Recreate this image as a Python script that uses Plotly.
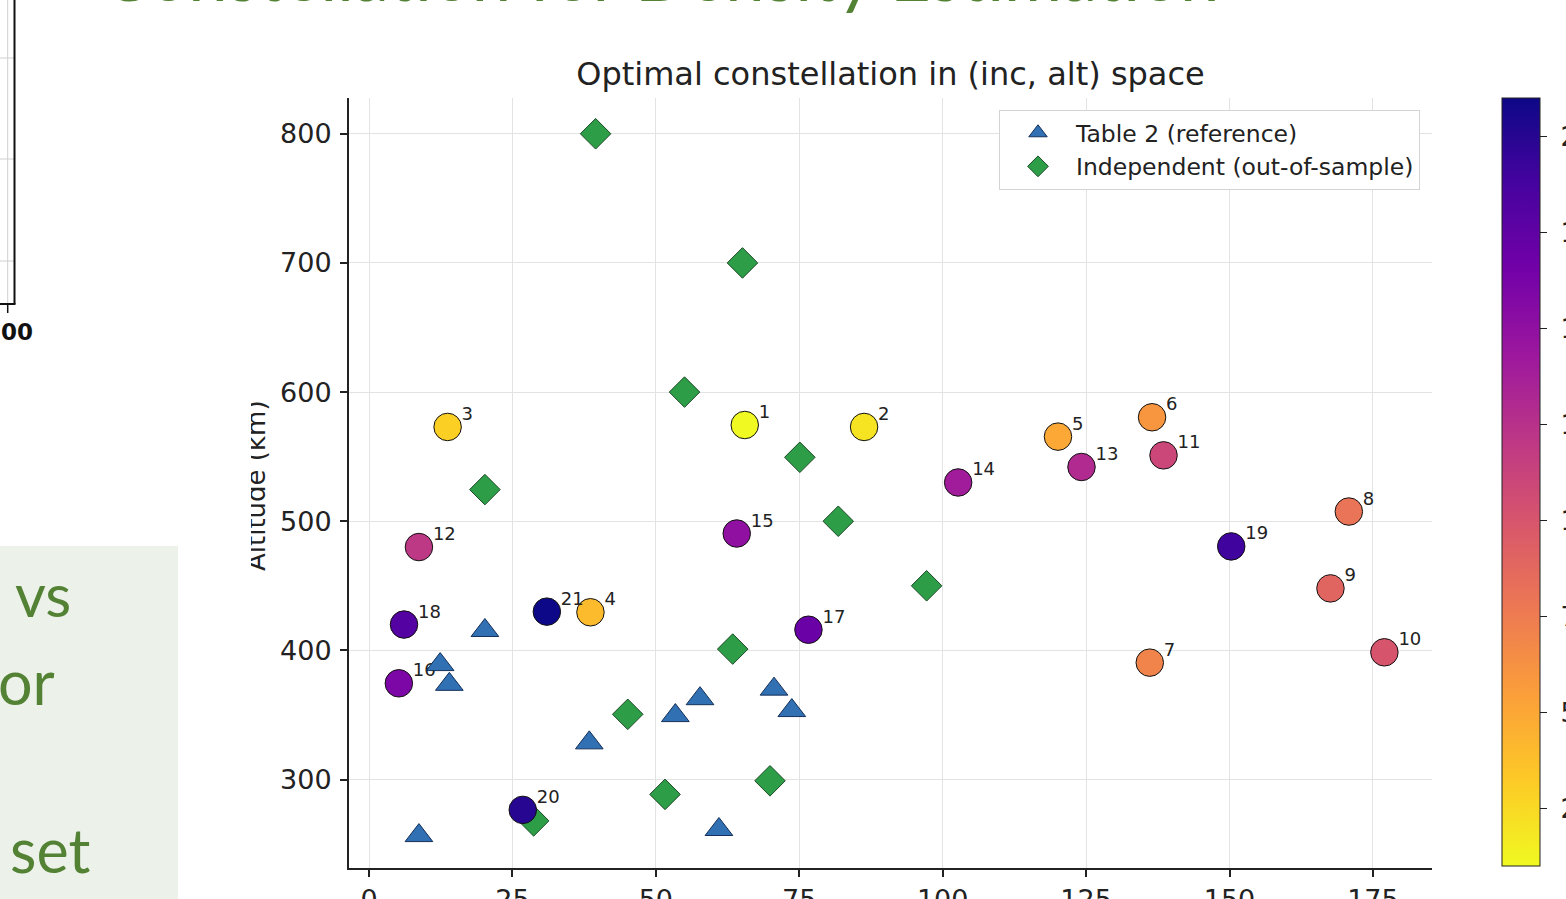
import plotly.graph_objects as go

# ---------------- data ----------------
sat_id = list(range(1, 22))
sat_inc = [65.5, 86.3, 13.7, 38.6, 120.1, 136.5, 136.1, 170.8, 167.6, 177.0, 138.5,
           8.7, 124.2, 102.7, 64.1, 5.2, 76.6, 6.1, 150.3, 26.8, 31.0]
sat_alt = [574.5, 573, 573, 429.5, 565.5, 580.5, 390.5, 507.5, 448, 398.5, 551,
           480, 542, 530, 490.5, 374.5, 416, 420, 480.5, 276.5, 430]

ref_inc = [8.7, 12.4, 14.0, 20.2, 38.4, 53.4, 57.7, 61.0, 70.6, 73.7]
ref_alt = [256.6, 389, 373.7, 415.4, 328.4, 349.5, 362.6, 261.3, 370, 353.4]

ind_inc = [39.5, 65.1, 55.0, 20.2, 75.1, 81.8, 97.2, 63.4, 45.1, 51.6, 69.9, 28.7]
ind_alt = [800, 700, 600, 524.5, 549.5, 500, 450, 401, 350.5, 288.5, 299, 268]

x_ticks = [0, 25, 50, 75, 100, 125, 150, 175]
y_ticks = [300, 400, 500, 600, 700, 800]
cbar_ticks = [2.5, 5, 7.5, 10, 12.5, 15, 17.5, 20]

# ---------------- layout constants ----------------
W, H = 1566, 899
ML, MR, MT, MB = 349, 134, 98, 31
XR = [-3.49, 185.3]
YR = [231.5, 827.7]
PW, PH = W - ML - MR, H - MT - MB
ppx = PW / (XR[1] - XR[0])
ppy = PH / (YR[1] - YR[0])


def px(xp):
    return (xp - ML) / PW


def py(yp):
    return (H - MB - yp) / PH


FONT = "DejaVu Sans"
INK = "#222222"
SLIDE_GREEN = "#548235"

fig = go.Figure()

# Independent (diamonds)
fig.add_trace(go.Scatter(
    x=ind_inc, y=ind_alt, mode="markers", name="Independent (out-of-sample)",
    legendrank=2,
    marker=dict(symbol="diamond", size=23.5, color="#2e9d48",
                line=dict(color="#1c4a26", width=1)),
))

# Optimal constellation (circles, coloured by index)
fig.add_trace(go.Scatter(
    x=sat_inc, y=sat_alt, mode="markers", showlegend=False,
    marker=dict(size=27.5, color=sat_id, colorscale="Plasma", reversescale=True,
                cmin=1, cmax=21, line=dict(color="#111111", width=1),
                colorbar=dict(
                    x=px(1502), xanchor="left", xpad=0,
                    y=py(482), yanchor="middle", ypad=0,
                    thickness=38, thicknessmode="pixels",
                    len=768, lenmode="pixels",
                    outlinewidth=1, outlinecolor=INK,
                    tickvals=cbar_ticks,
                    ticktext=["\u00a0" + f"{v:.1f}" for v in cbar_ticks],
                    ticks="outside", ticklen=7, tickwidth=1.2, tickcolor=INK,
                    tickfont=dict(family=FONT, size=26, color=INK),
                )),
))

# index labels next to circles
fig.add_trace(go.Scatter(
    x=[v + 14 / ppx for v in sat_inc], y=[v + 2.5 / ppy for v in sat_alt],
    mode="text", text=[str(i) for i in sat_id], textposition="top right",
    textfont=dict(family=FONT, size=18, color=INK), showlegend=False,
    hoverinfo="skip",
))

# Table 2 reference (triangles)
fig.add_trace(go.Scatter(
    x=ref_inc, y=ref_alt, mode="markers", name="Table 2 (reference)",
    legendrank=1,
    marker=dict(symbol="triangle-up", size=24, color="#3070b3",
                line=dict(color="#15305a", width=1)),
))

axis_common = dict(
    showgrid=True, gridcolor="#e3e3e3", gridwidth=1, zeroline=False,
    showline=True, linecolor=INK, linewidth=2, mirror=False,
    ticks="outside", ticklen=7, tickwidth=1.5, tickcolor=INK,
    tickfont=dict(family=FONT, size=27, color=INK),
)

shapes = [
    # light green text box on the slide
    dict(type="rect", xref="paper", yref="paper", x0=px(-5), x1=px(178),
         y0=py(905), y1=py(546), fillcolor="#ecf1ea", line=dict(width=0),
         layer="below"),
    # fragment of neighbouring chart (top-left)
    dict(type="line", xref="paper", yref="paper", x0=px(7.7), x1=px(7.7),
         y0=py(-5), y1=py(304), line=dict(color="#cfcfcf", width=1)),
    dict(type="line", xref="paper", yref="paper", x0=px(0), x1=px(14.5),
         y0=py(58), y1=py(58), line=dict(color="#cfcfcf", width=1)),
    dict(type="line", xref="paper", yref="paper", x0=px(0), x1=px(14.5),
         y0=py(159), y1=py(159), line=dict(color="#cfcfcf", width=1)),
    dict(type="line", xref="paper", yref="paper", x0=px(0), x1=px(14.5),
         y0=py(261), y1=py(261), line=dict(color="#cfcfcf", width=1)),
    dict(type="line", xref="paper", yref="paper", x0=px(14.5), x1=px(14.5),
         y0=py(-5), y1=py(304), line=dict(color="#111111", width=2)),
    dict(type="line", xref="paper", yref="paper", x0=px(-5), x1=px(15.5),
         y0=py(304), y1=py(304), line=dict(color="#111111", width=2)),
    dict(type="line", xref="paper", yref="paper", x0=px(7.7), x1=px(7.7),
         y0=py(304), y1=py(313), line=dict(color="#111111", width=1.5)),
]

annotations = [
    # slide heading (mostly cut off at the top)
    dict(text="Constellation for Density Estimation", xref="paper", yref="paper",
         x=px(660), y=py(-26), xanchor="center", yanchor="middle",
         showarrow=False, font=dict(family="Lato", size=70.5, color=SLIDE_GREEN)),
    dict(text="vs", xref="paper", yref="paper", x=px(73), y=py(594),
         xanchor="right", yanchor="middle", showarrow=False,
         font=dict(family="Lato", size=60, color=SLIDE_GREEN)),
    dict(text="or", xref="paper", yref="paper", x=px(57), y=py(681),
         xanchor="right", yanchor="middle", showarrow=False,
         font=dict(family="Lato", size=61, color=SLIDE_GREEN)),
    dict(text="set", xref="paper", yref="paper", x=px(92), y=py(849),
         xanchor="right", yanchor="middle", showarrow=False,
         font=dict(family="Lato", size=61, color=SLIDE_GREEN)),
    dict(text="<b>00</b>", xref="paper", yref="paper", x=px(35), y=py(332),
         xanchor="right", yanchor="middle", showarrow=False,
         font=dict(family=FONT, size=23, color="#111111")),
    # y-axis label (partly hidden by the slide crop)
    dict(text="Altitude (km)", xref="paper", yref="paper", textangle=-90,
         x=px(256), y=py(486), xanchor="center", yanchor="middle",
         showarrow=False, font=dict(family=FONT, size=26, color=INK)),
    dict(text=" ", xref="paper", yref="paper", x=px(251), y=py(486),
         xanchor="right", yanchor="middle", showarrow=False, width=30,
         height=220, bgcolor="white", borderpad=0, borderwidth=0),
]

fig.update_layout(
    width=W, height=H,
    margin=dict(l=ML, r=MR, t=MT, b=MB, pad=0, autoexpand=False),
    paper_bgcolor="white", plot_bgcolor="white",
    title=dict(text="Optimal constellation in (inc, alt) space", x=0.5,
               xref="paper", xanchor="center", y=1 - 74 / H, yref="container",
               yanchor="middle", font=dict(family=FONT, size=32, color=INK)),
    xaxis=dict(range=XR, tickvals=x_ticks, **axis_common),
    yaxis=dict(range=YR, tickvals=y_ticks, ticklabelstandoff=3, **axis_common),
    legend=dict(x=px(1420), xanchor="right", y=py(110), yanchor="top",
                bgcolor="white", bordercolor="#d4d4d4", borderwidth=1,
                font=dict(family=FONT, size=23.5, color=INK), itemwidth=66,
                traceorder="normal"),
    shapes=shapes,
    annotations=annotations,
    showlegend=True,
)

fig.write_html("out.html")
